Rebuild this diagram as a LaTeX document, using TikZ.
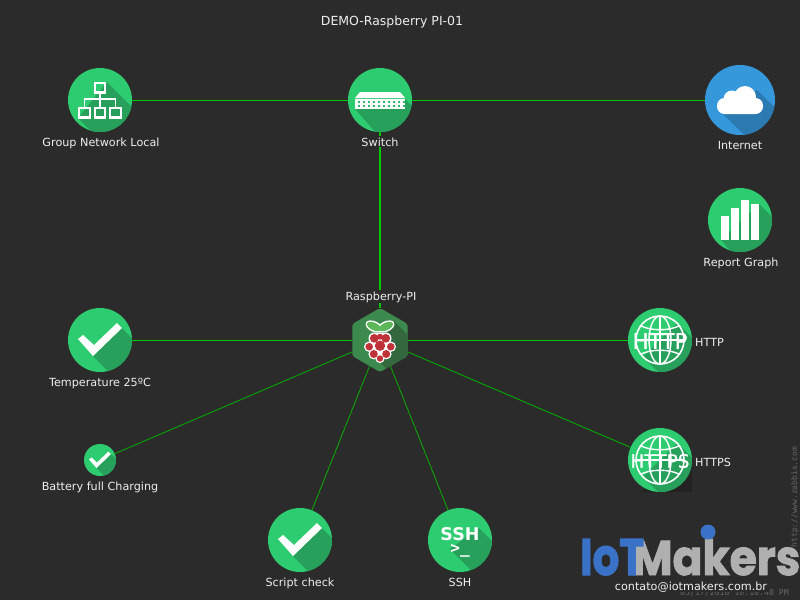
\documentclass[tikz,border=0pt]{standalone}
\usepackage{fontspec}
\setmainfont{DejaVu Sans}
\newfontfamily\logofont[BoldFeatures={FakeBold=2}]{Poppins}
\newfontfamily\wmfont{DejaVu Sans Mono}
\newfontfamily\overfont[FakeBold=0.6]{DejaVu Sans}
\usetikzlibrary{positioning,shapes.geometric}

\definecolor{bgDark}{HTML}{2B2B2B}
\definecolor{discGreen}{HTML}{2ECC71}
\definecolor{shadeGreen}{HTML}{27A05C}
\definecolor{discBlue}{HTML}{3498DB}
\definecolor{shadeBlue}{HTML}{2C7AB2}
\definecolor{hexGreen}{HTML}{3C8A4E}
\definecolor{hexShade}{HTML}{33683F}
\definecolor{linkGreen}{HTML}{00C800}
\definecolor{labelGrey}{HTML}{EEEEEE}
\definecolor{logoBlue}{HTML}{3A72C8}
\definecolor{logoGrey}{HTML}{B0B0B0}
\definecolor{markGrey}{HTML}{666666}
\definecolor{berryRed}{HTML}{BE3238}
\definecolor{leafGreen}{HTML}{5DB85A}

\tikzset{
    x=1pt, y=-1pt,
    icondisc/.style={circle, inner sep=0pt, minimum size=64pt, fill=discGreen},
    iconhex/.style={regular polygon, regular polygon sides=6, shape border rotate=30, inner sep=0pt, minimum size=64pt, fill=hexGreen, rounded corners=2pt},
    iconshadow/.style={path picture={\fill[shadeGreen] #1;}},
    nodelabel/.style={anchor=base, fill=bgDark, inner sep=1pt, text=labelGrey, font=\fontsize{11.2}{13}\selectfont},
    linkline/.style={draw=linkGreen, line width=0.9pt},
    linkthin/.style={draw=linkGreen!90!black, line width=0.8pt},
    glyph/.style={draw=white, line width=2.4pt, fill=none},
    checkmark/.pic={
        \fill[white] (-22,-1) -- (-17,-5) -- (-6,5) -- (17,-17) -- (22,-12) -- (-7,16) -- cycle;
    },
    netglyph/.pic={
        \draw[glyph] (-5,-17) rectangle (5,-7.5);
        \draw[glyph] (-21,8) rectangle (-10,17.5);
        \draw[glyph] (-5,8) rectangle (5,17.5);
        \draw[glyph] (10,8) rectangle (21,17.5);
        \draw[white, line width=1.7pt] (0,-7) -- (0,7.5) (-15.5,7.5) -- (-15.5,-1) -- (15.5,-1) -- (15.5,7.5);
    },
    switchglyph/.pic={
        \fill[white] (-25,-2) -- (-20,-8) -- (20,-8) -- (25,-2) -- cycle;
        \fill[white] (-25,-1) rectangle (25,9);
        \foreach \sx in {-22,-17,...,23} {
            \foreach \sy in {0.5,5} {
                \fill[discGreen!60!shadeGreen] (\sx,\sy) rectangle +(2.2,2.4);
            }
        }
    },
    cloudglyph/.pic={
        \fill[white, rounded corners=7.5pt] (-23,-2) rectangle (23,14);
        \fill[white] (5,-3) circle (11);
        \fill[white] (-8,-1) circle (8.5);
    },
    barglyph/.pic={
        \fill[white] (-19,-4) rectangle (-11,20);
        \fill[white] (-9,-12) rectangle (-1,20);
        \fill[white] (1,-20) rectangle (9,20);
        \fill[white] (11,-16) rectangle (19,20);
    },
    globeglyph/.pic={
        \draw[white, line width=1.6pt] (0,0) circle (24);
        \draw[white, line width=1.4pt] (0,0) ellipse (11 and 24);
        \draw[white, line width=1.4pt] (0,-24) -- (0,24);
        \draw[white, line width=1.4pt] (-24,0) -- (24,0);
        \draw[white, line width=1.4pt] (-19,-14) .. controls (-8,-9) and (8,-9) .. (19,-14);
        \draw[white, line width=1.4pt] (-19,14) .. controls (-8,9) and (8,9) .. (19,14);
    },
    raspiglyph/.pic={
        \fill[white, rotate around={-25:(-6,-13.5)}] (-6,-13.5) ellipse (9 and 5.3);
        \fill[white, rotate around={25:(6,-13.5)}] (6,-13.5) ellipse (9 and 5.3);
        \fill[leafGreen, rotate around={-25:(-6,-13.5)}] (-6,-13.5) ellipse (7.5 and 3.8);
        \fill[leafGreen, rotate around={25:(6,-13.5)}] (6,-13.5) ellipse (7.5 and 3.8);
        \foreach \bx/\by/\br in {-5.7/-1.7/4.4,5.7/-1.7/4.4,0/-3.3/3,-10.8/6.7/3.8,0/5.7/5.2,10.8/6.7/3.8,-6.2/14/4,6.2/14/4,0/18.5/3.2} {
            \fill[white] (\bx,\by) circle (\br+1.4);
        }
        \fill[white] (0,6) circle (10);
        \foreach \bx/\by/\br in {-5.7/-1.7/4.4,5.7/-1.7/4.4,0/-3.3/3,-10.8/6.7/3.8,0/5.7/5.2,10.8/6.7/3.8,-6.2/14/4,6.2/14/4,0/18.5/3.2} {
            \fill[berryRed] (\bx,\by) circle (\br);
        }
    }
}

\begin{document}
\begin{tikzpicture}
    \path[use as bounding box, fill=bgDark] (0,0) rectangle (800,600);

    % corner left by the https icon
    \fill[black!20!bgDark] (692,465) -- (692,492) -- (640,492) -- cycle;

    % watermark text of the map
    \node[font=\wmfont\fontsize{7.9}{8}\selectfont, text=markGrey, rotate=90, anchor=east, inner sep=0pt] (zabbixmark) at (795,447) {http://www.zabbix.com};
    \node[font=\wmfont\fontsize{8.2}{9}\selectfont, text=markGrey, anchor=base east, inner sep=0pt] (timemark) at (789,595) {05/17/2018 10:10:48 PM};

    % discs
    \node[icondisc, iconshadow={(7,-18) -- (50,25) -- (50,50) -- (10,50) -- (-22,18) -- cycle}] (groupnet) at (100,100) {};
    \node[icondisc, iconshadow={(-25,9) -- (25,9) -- (25,-1) -- (70,44) -- (6,44) -- cycle}] (switch) at (380,100) {};
    \node[icondisc, minimum size=70pt, path picture={\fill[shadeBlue] (17,-10) -- (50,23) -- (50,50) -- (19,50) -- (-17,14) -- cycle;}, fill=discBlue] (internet) at (740,100) {};
    \node[icondisc, iconshadow={(19,-16) -- (50,15) -- (50,50) -- (6,50) -- (-19,20) -- cycle}] (report) at (740,220) {};
    \node[iconhex, path picture={\fill[hexShade] (13,-20) -- (50,17) -- (50,50) -- (28,50) -- (-5,17) -- cycle;}] (raspi) at (380,340) {};
    \node[icondisc, iconshadow={(22,-12) -- (50,16) -- (50,50) -- (27,50) -- (-7,16) -- cycle}] (temperature) at (100,340) {};
    \node[icondisc, minimum size=32pt, iconshadow={(11,-6) -- (25,8) -- (25,25) -- (13,25) -- (-3.5,8) -- cycle}] (battery) at (100,460) {};
    \node[icondisc, iconshadow={(22,-12) -- (50,16) -- (50,50) -- (27,50) -- (-7,16) -- cycle}] (script) at (300,540) {};
    \node[icondisc, iconshadow={(19,-12) -- (60,29) -- (60,60) -- (41,60) -- (-10,9) -- cycle}] (ssh) at (460,540) {};
    \node[icondisc, iconshadow={(17,-17) -- (50,16) -- (50,50) -- (16,50) -- (-17,17) -- cycle}] (http) at (660,340) {};
    \node[icondisc, iconshadow={(17,-17) -- (50,16) -- (50,50) -- (16,50) -- (-17,17) -- cycle}] (https) at (660,460) {};

    % glyphs
    \pic at (groupnet.center) {netglyph};
    \pic at (switch.center) {switchglyph};
    \pic at (internet.center) {cloudglyph};
    \pic at (report.center) {barglyph};
    \pic at (raspi.center) {raspiglyph};
    \pic at (temperature.center) {checkmark};
    \pic[scale=0.5] at (battery.center) {checkmark};
    \pic at (script.center) {checkmark};
    \pic at (http.center) {globeglyph};
    \pic at (https.center) {globeglyph};
    \node[text=white, font=\bfseries\fontsize{17.5}{18}\selectfont] (sshname) at (460,534) {SSH};
    \node[text=white, font=\wmfont\bfseries\fontsize{16}{16}\selectfont] (sshprompt) at (460,551) {>\_};
    \node[text=white, font=\overfont\fontsize{21.5}{22}\selectfont] (httpname) at (660,341) {HTTP};
    \node[text=white, font=\overfont\fontsize{18.5}{19}\selectfont] (httpsname) at (660,461) {HTTPS};

    % links
    \draw[linkline] (groupnet) -- (switch);
    \draw[linkline] (switch) -- (internet);
    \draw[linkline, line width=1.6pt] (switch) -- (raspi);
    \draw[linkline] (raspi) -- (temperature);
    \draw[linkline] (raspi) -- (http);
    \draw[linkthin] (raspi) -- (battery);
    \draw[linkthin] (raspi) -- (script);
    \draw[linkthin] (raspi) -- (ssh);
    \draw[linkthin] (raspi) -- (https);

    % labels
    \node[nodelabel, fill=none, font=\fontsize{12.5}{14}\selectfont] (title) at (392,25) {DEMO-Raspberry PI-01};
    \node[nodelabel] (grouplabel) at (101,146) {Group Network Local};
    \node[nodelabel] (switchlabel) at (380,146) {Switch};
    \node[nodelabel] (internetlabel) at (740,149) {Internet};
    \node[nodelabel] (reportlabel) at (741,266) {Report Graph};
    \node[nodelabel] (raspilabel) at (381,300) {Raspberry-PI};
    \node[nodelabel] (templabel) at (100,386) {Temperature 25ºC};
    \node[nodelabel] (batterylabel) at (100,490) {Battery full Charging};
    \node[nodelabel] (scriptlabel) at (300,586) {Script check};
    \node[nodelabel] (sshlabel) at (460,586) {SSH};
    \node[nodelabel, anchor=base west] (httplabel) at (694,346) {HTTP};
    \node[nodelabel, anchor=base west] (httpslabel) at (694,466) {HTTPS};

    % logo
    \node[anchor=base west, inner sep=0pt, text=logoGrey] (logomakers) at (632,575) {\resizebox{168pt}{36pt}{\logofont\bfseries Makers}};
    \node[anchor=base west, inner sep=0pt, text=logoBlue] (logoiot) at (580,575) {\resizebox{64pt}{36pt}{\logofont\bfseries IoT}};
    \fill[logoBlue] (708,532) circle (7.5);
    \node[nodelabel, inner sep=0.5pt] (contact) at (691,590) {contato@iotmakers.com.br};
\end{tikzpicture}
\end{document}
